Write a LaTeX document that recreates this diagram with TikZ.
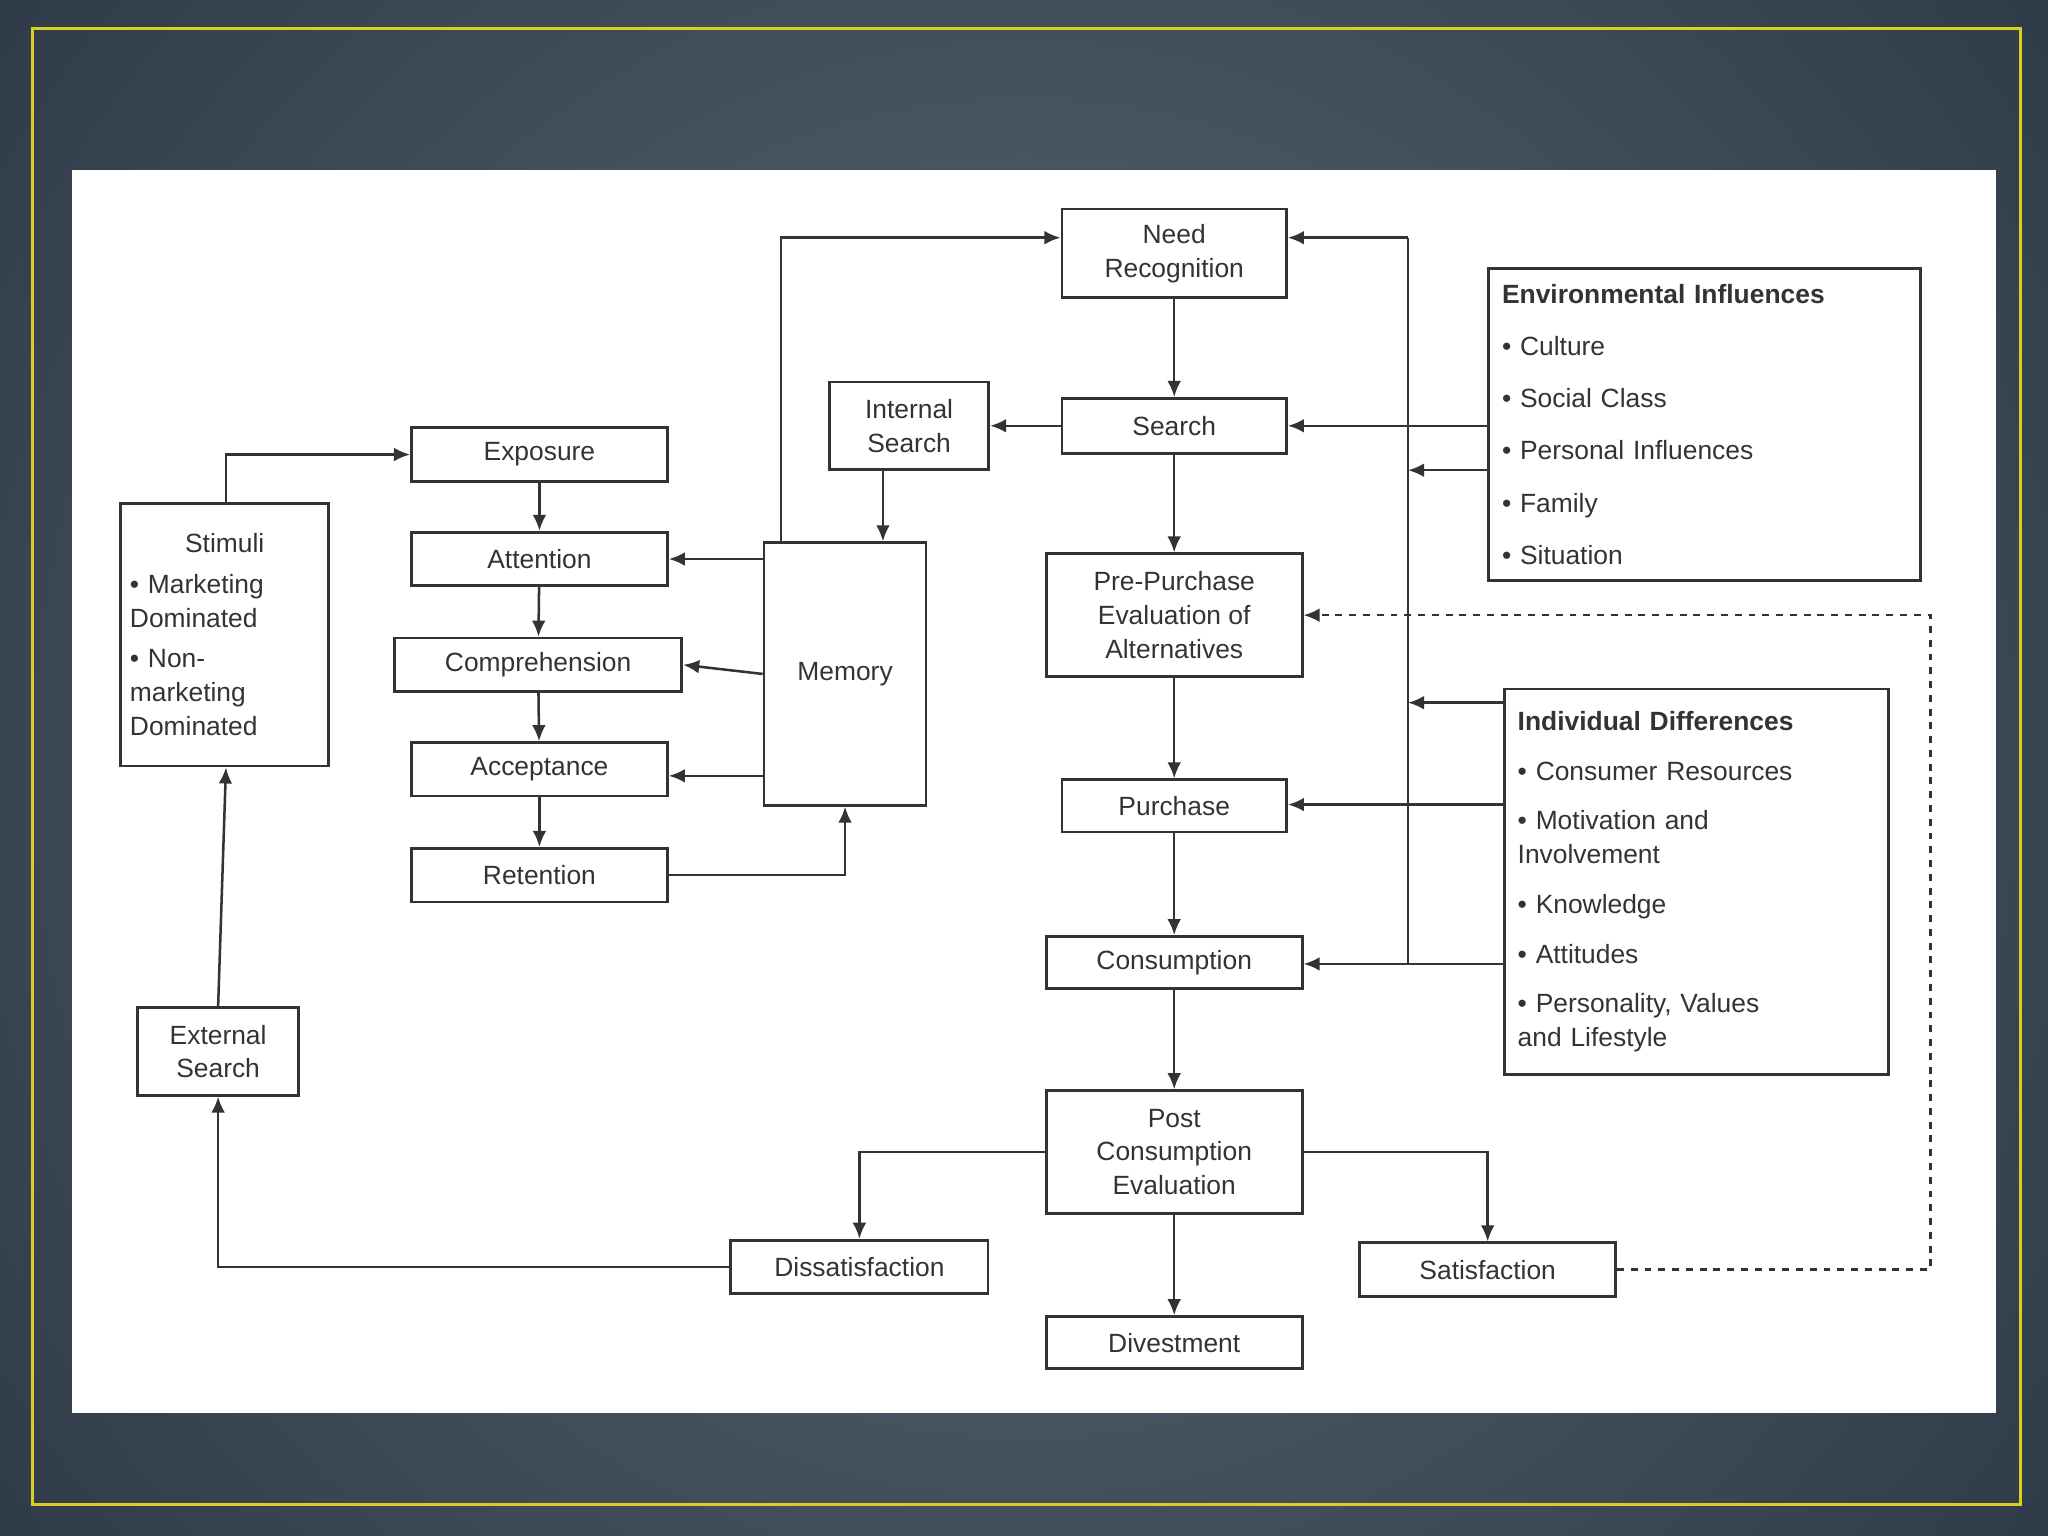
\documentclass[tikz,border=0pt]{standalone}
\usepackage{fontspec}
\setmainfont{Liberation Sans}
\usetikzlibrary{arrows.meta}
\definecolor{bgin}{HTML}{5E6A76}
\definecolor{bgout}{HTML}{2A3644}
\definecolor{frame}{HTML}{D8D020}
\definecolor{ink}{HTML}{333333}
\begin{document}
\begin{tikzpicture}[x=0.02cm,y=-0.02cm,
  box/.style={draw=ink,line width=1.2pt,fill=white,inner sep=0pt,align=center,
    font=\fontsize{11.5}{14.7}\selectfont,text=ink},
  arr/.style={draw=ink,line width=1.1pt,-{Latex[length=7pt,width=6pt]}},
  ln/.style={draw=ink,line width=1.1pt}]
\useasboundingbox (0,0) rectangle (1568,1176);
\fill[bgout] (0,0) rectangle (1568,1176);
\shade[inner color=bgin,outer color=bgout] (-300,-500) rectangle (1868,1676);
\draw[frame,line width=1.5pt] (25,22) rectangle (1547,1152);
\fill[white] (55,130) rectangle (1528,1082);
\def\bx#1#2#3#4#5#6{\node[box,minimum width=#4*0.02cm,minimum height=#5*0.02cm] (#1) at (#2,#3) {#6};}
\bx{nr}{899}{194}{172}{68}{Need\\Recognition}
\bx{se}{899}{326}{172}{42}{Search}
\bx{is}{696}{326}{122}{67}{Internal\\Search}
\bx{pp}{899}{471}{196}{94}{Pre-Purchase\\Evaluation of\\Alternatives}
\bx{pu}{899}{617}{172}{40}{Purchase}
\bx{co}{899}{737}{196}{40}{Consumption}
\bx{pce}{899}{882}{196}{94}{Post\\Consumption\\Evaluation}
\bx{dv}{899}{1028}{196}{40}{Divestment}
\bx{ds}{658}{970}{197}{41}{Dissatisfaction}
\bx{sa}{1139}{972}{196}{41}{Satisfaction}
\bx{ex}{413}{348}{196}{41}{Exposure}
\bx{at}{413}{428}{196}{41}{Attention}
\bx{cp}{412}{509}{220}{41}{Comprehension}
\bx{ac}{413}{589}{196}{41}{Acceptance}
\bx{re}{413}{670}{196}{41}{Retention}
\bx{me}{647}{516}{124}{201}{Memory}
\bx{es}{167}{805}{123}{67}{External\\Search}
\node[box,minimum width=159*0.02cm,minimum height=201*0.02cm,text width=145*0.02cm,align=left] (st) at (172,486)
 {\centering Stimuli\par\vspace{3pt}\raggedright • Marketing\\Dominated\par\vspace{3pt}• Non-\\marketing\\Dominated};
\node[box,minimum width=331*0.02cm,minimum height=239*0.02cm,text width=310*0.02cm,align=left,
 font=\fontsize{11.5}{22.7}\selectfont] (env) at (1305,325)
 {\textbf{Environmental Influences}\\• Culture\\• Social Class\\• Personal Influences\\• Family\\• Situation};
\node[box,minimum width=294*0.02cm,minimum height=295*0.02cm,text width=274*0.02cm,align=left] (id) at (1299,675)
 {\textbf{Individual Differences}\par\vspace{7pt}• Consumer Resources\par\vspace{7pt}• Motivation and\\Involvement\par\vspace{7pt}• Knowledge\par\vspace{7pt}• Attitudes\par\vspace{7pt}• Personality, Values\\and Lifestyle};
% main chain
\draw[arr] (nr) -- (se);
\draw[arr] (se) -- (pp);
\draw[arr] (pp) -- (pu);
\draw[arr] (pu) -- (co);
\draw[arr] (co) -- (pce);
\draw[arr] (pce) -- (dv);
\draw[arr] (se) -- (is);
\draw[arr] (is.south -| 676,0) -- (me.north -| 676,0);
\draw[arr] (me.north -| 598,0) |- (nr.west |- 0,182);
\draw[arr] (me.west |- 0,428) -- (at.east |- 0,428);
\draw[arr] (me.west |- 0,516) -- (cp.east |- 0,509);
\draw[arr] (me.west |- 0,594) -- (ac.east |- 0,594);
\draw[arr] (ex) -- (at);
\draw[arr] (at) -- (cp);
\draw[arr] (cp) -- (ac);
\draw[arr] (ac) -- (re);
\draw[arr] (re.east) -| (me.south -| 647,0);
\draw[arr] (st.north -| 173,0) |- (ex.west);
\draw[arr] (es.north) -- (st.south -| 173,0);
\draw[arr] (ds.west) -| (es.south);
\draw[arr] (pce.west) -| (ds.north);
\draw[arr] (pce.east) -| (sa.north);
\draw[arr,dashed,line width=1pt] (sa.east) -| (1478,471) -- (pp.east |- 0,471);
% right side
\coordinate (vt) at (1078,182);
\coordinate (vb) at (1078,738);
\draw[ln] (vb) -- (vt);
\draw[arr] (vt) -- (nr.east |- 0,182);
\draw[arr] (env.west |- 0,326) -- (se.east);
\draw[arr] (env.west |- 0,360) -- (1078,360);
\draw[arr] (id.west |- 0,538) -- (1078,538);
\draw[arr] (id.west |- 0,616) -- (pu.east |- 0,616);
\draw[arr] (id.west |- 0,738) -- (co.east |- 0,738);
\end{tikzpicture}
\end{document}
